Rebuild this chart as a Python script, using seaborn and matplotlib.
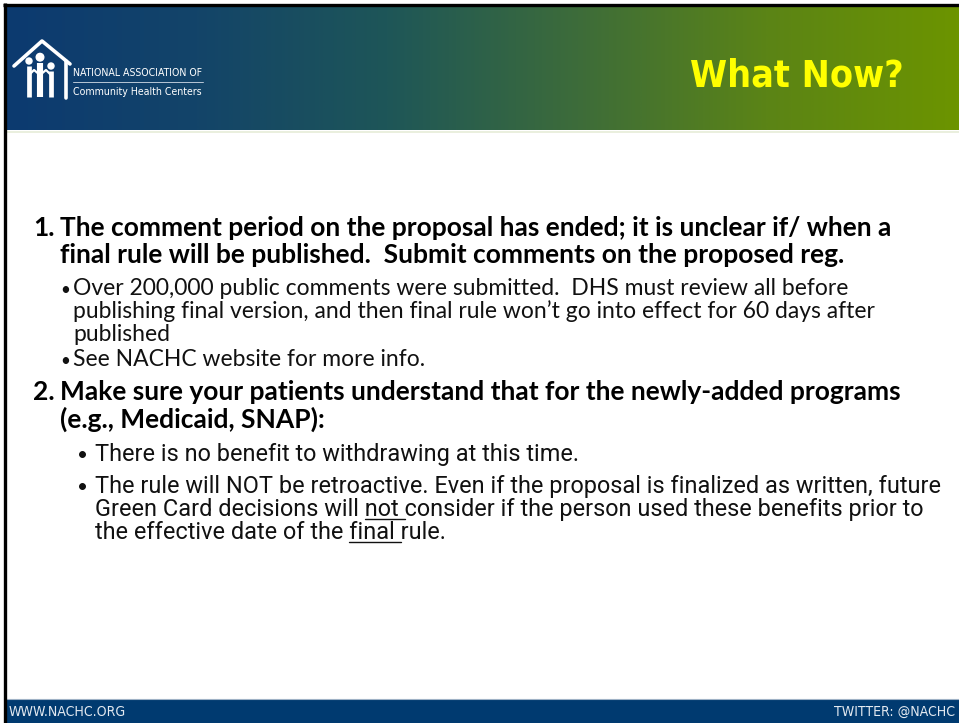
import numpy as np
import matplotlib
matplotlib.use("Agg")
import matplotlib.pyplot as plt
import seaborn as sns
from matplotlib import font_manager
from matplotlib.font_manager import FontProperties
from matplotlib.colors import LinearSegmentedColormap
import matplotlib.patches as mpatches

# slide text
title = "What Now?"
org_line1 = "NATIONAL ASSOCIATION OF"
org_line2 = "Community Health Centers"
footer_left = "WWW.NACHC.ORG"
footer_right = "TWITTER: @NACHC"

point_numbers = ["1.", "2."]
point1_lines = [
    "The comment period on the proposal has ended; it is unclear if/ when a",
    "final rule will be published.  Submit comments on the proposed reg.",
]
point1_bullets = [
    ["Over 200,000 public comments were submitted.  DHS must review all before",
     "publishing final version, and then final rule won\u2019t go into effect for 60 days after",
     "published"],
    ["See NACHC website for more info."],
]
point2_lines = [
    "Make sure your patients understand that for the newly-added programs",
    "(e.g., Medicaid, SNAP):",
]
point2_bullets = [
    ["There is no benefit to withdrawing at this time."],
    ["The rule will NOT be retroactive. Even if the proposal is finalized as written, future",
     "Green Card decisions will not consider if the person used these benefits prior to",
     "the effective date of the final rule."],
]
# (bullet index, line index, underlined word) inside point 2
underlined = [(1, 1, "not"), (1, 2, "final")]

header_colors = ["#0c3a70", "#134469", "#1e5658", "#3d6c3a", "#5b8416", "#6c9400"]
footer_color = "#003a70"
title_color = "#ffff00"

W, H = 959, 723

sns.set_theme(style="white")
names = {f.name for f in font_manager.fontManager.ttflist}
body_font = "Lato" if "Lato" in names else "DejaVu Sans"
plt.rcParams["font.family"] = [body_font, "DejaVu Sans"]


def condensed(bold):
    # narrow face for title / logo / footer (Arial Narrow look)
    want = "DejaVuSansCondensed-Bold.ttf" if bold else "DejaVuSansCondensed.ttf"
    for f in font_manager.fontManager.ttflist:
        if f.fname.split("/")[-1] == want:
            return FontProperties(fname=f.fname)
    return FontProperties(family="Roboto", weight="bold" if bold else "normal")


narrow = condensed(False)
narrow_bold = condensed(True)

fig = plt.figure(figsize=(W / 100, H / 100), dpi=100)
ax = fig.add_axes([0, 0, 1, 1])
ax.set_xlim(0, W)
ax.set_ylim(H, 0)
ax.axis("off")
renderer = fig.canvas.get_renderer()

# header band with horizontal gradient
cmap = LinearSegmentedColormap.from_list("hdr", header_colors)
grad = np.linspace(0, 1, 512)[None, :]
ax.imshow(grad, cmap=cmap, extent=[6, W, 130, 7], aspect="auto", zorder=1)
ax.plot([6, W], [131.5, 131.5], color="#e6ecd8", lw=1.2, zorder=2)

# footer band
ax.add_patch(mpatches.Rectangle((6, 700), W - 6, H - 700, color=footer_color, zorder=1))
ax.plot([6, W], [699, 699], color="#9fb2c6", lw=0.8, zorder=2)

# black frame (top and left)
ax.plot([3, W], [5, 5], color="black", lw=2.4, zorder=3, solid_capstyle="butt")
ax.plot([5, 5], [3, H], color="black", lw=2.4, zorder=3, solid_capstyle="butt")

# logo: house outline and three figures
lw_logo = 2.6
ax.plot([14, 42, 70], [66, 41, 64], color="white", lw=lw_logo, zorder=4, solid_capstyle="round")
ax.plot([66, 66], [61, 98], color="white", lw=lw_logo, zorder=4)
for cx, top, r, w in [(29, 66, 3.0, 3.4), (40, 63, 3.8, 4.4), (51, 71, 3.0, 3.4)]:
    ax.add_patch(mpatches.Circle((cx, top - r - 2), r, color="white", zorder=4))
    ax.plot([cx, cx], [top, 97], color="white", lw=w, zorder=4, solid_capstyle="butt")
ax.plot([29, 34, 40], [75, 70, 75], color="white", lw=1.6, zorder=4)
ax.plot([40, 46, 51], [75, 70, 75], color="white", lw=1.6, zorder=4)


def text_width(s, size, fp=None, family=None, weight="normal"):
    if fp is not None:
        t = ax.text(0, 0, s, fontproperties=fp, fontsize=size)
    else:
        t = ax.text(0, 0, s, fontsize=size, family=family, weight=weight)
    w = t.get_window_extent(renderer).width
    t.remove()
    return w


def fit(s, target, **kw):
    return 18 * target / text_width(s, 18, **kw)


org1_size = fit(org_line1, 130, fp=narrow)
org2_size = fit(org_line2, 128, fp=narrow)
ax.text(73, 73, org_line1, color="white", fontproperties=narrow, fontsize=org1_size,
        va="center", ha="left", zorder=5)
ax.plot([73, 203], [82, 82], color="#b9c7d6", lw=0.7, zorder=5)
ax.text(73, 92, org_line2, color="white", fontproperties=narrow, fontsize=org2_size,
        va="center", ha="left", zorder=5)

# title (a bit wider than the original so the letter height stays close)
title_size = fit(title, 214, fp=narrow_bold)
ax.text(904, 76, title, color=title_color, fontproperties=narrow_bold, fontsize=title_size,
        ha="right", va="center", zorder=5)

# footer text
foot_size = fit(footer_left, 117, fp=narrow)
ax.text(9, 712, footer_left, color="#e3e9f0", fontproperties=narrow, fontsize=foot_size,
        ha="left", va="center", zorder=5)
ax.text(955, 712, footer_right, color="#e3e9f0", fontproperties=narrow, fontsize=foot_size,
        ha="right", va="center", zorder=5)

fam_body = [body_font, "DejaVu Sans"]
fam_narrow = ["Roboto", "DejaVu Sans"]
head_size = fit(point1_lines[0], 833, family=fam_body, weight="bold")
sub1_size = fit(point1_bullets[0][1], 800, family=fam_body)
sub2_size = fit(point2_bullets[1][0], 846, family=fam_narrow)

num_x, head_x = 33, 60
b1_x, t1_x = 60, 73
b2_x, t2_x = 77, 95

# point 1
head1_y = [236, 263]
ax.text(num_x, head1_y[0], point_numbers[0], fontsize=head_size, weight="bold", family=fam_body,
        va="baseline", color="black")
for s, y in zip(point1_lines, head1_y):
    ax.text(head_x, y, s, fontsize=head_size, weight="bold", family=fam_body, va="baseline", color="black")

sub1_y = [[295, 318, 341], [366]]
for lines, ys in zip(point1_bullets, sub1_y):
    ax.text(b1_x, ys[0], "\u2022", fontsize=sub1_size * 0.75, family=fam_body, va="baseline", color="#111111")
    for s, y in zip(lines, ys):
        ax.text(t1_x, y, s, fontsize=sub1_size, family=fam_body, va="baseline", color="#111111")

# point 2
head2_y = [400, 428]
ax.text(num_x, head2_y[0], point_numbers[1], fontsize=head_size, weight="bold", family=fam_body,
        va="baseline", color="black")
for s, y in zip(point2_lines, head2_y):
    ax.text(head_x, y, s, fontsize=head_size, weight="bold", family=fam_body, va="baseline", color="black")

sub2_y = [[461], [493, 516, 539]]
for lines, ys in zip(point2_bullets, sub2_y):
    ax.text(b2_x, ys[0], "\u2022", fontsize=sub2_size * 0.8, family=fam_body, va="baseline", color="#111111")
    for s, y in zip(lines, ys):
        ax.text(t2_x, y, s, fontsize=sub2_size, family=fam_narrow, va="baseline", color="#111111")

for bi, li, word in underlined:
    s = point2_bullets[bi][li]
    i = s.index(word)
    x0 = t2_x + text_width(s[:i], sub2_size, family=fam_narrow)
    x1 = t2_x + text_width(s[:i + len(word) + 1], sub2_size, family=fam_narrow)
    y = sub2_y[bi][li] + 2.5
    ax.plot([x0, x1], [y, y], color="#111111", lw=1.0, zorder=5)

fig.savefig("out.png", dpi=100)
